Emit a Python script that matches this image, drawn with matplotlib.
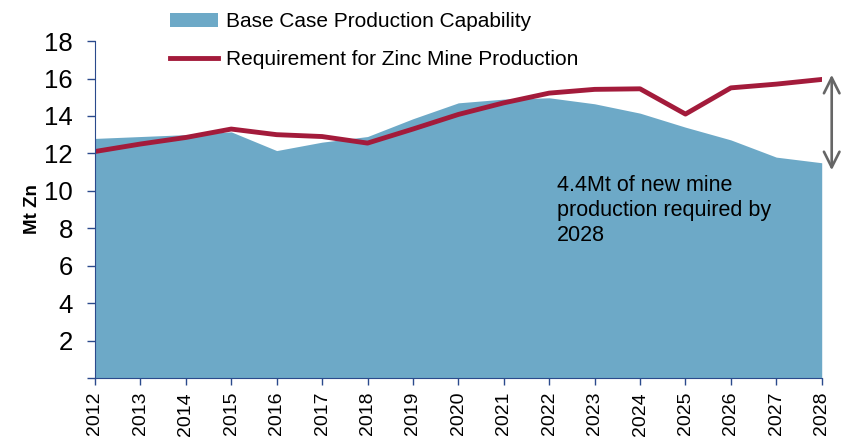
import matplotlib.pyplot as plt

plt.rcParams['font.family'] = ['Liberation Sans', 'DejaVu Sans']

years = list(range(2012, 2029))
base_case = [12.8, 12.9, 13.0, 13.15, 12.15, 12.6, 12.9, 13.85, 14.7,
             14.9, 14.97, 14.65, 14.15, 13.4, 12.72, 11.8, 11.5]
requirement = [12.1, 12.5, 12.85, 13.3, 13.0, 12.9, 12.55, 13.3, 14.08,
               14.7, 15.22, 15.42, 15.45, 14.1, 15.5, 15.7, 15.95]
yticks = list(range(0, 20, 2))

navy = '#2B4A8C'

fig = plt.figure(figsize=(8.48, 4.37), dpi=100)
ax = fig.add_axes([0.112, 0.135, 0.857, 0.771])

ax.fill_between(years, 0, base_case, color='#6DA9C7', linewidth=0,
                label='Base Case Production Capability')
ax.plot(years, requirement, color='#A31B3B', linewidth=3.5,
        label='Requirement for Zinc Mine Production')

ax.set_xlim(2012, 2028)
ax.set_ylim(0, 18)
ax.set_xticks(years)
ax.set_xticklabels([str(y) for y in years], rotation=90, fontsize=14)
ax.set_yticks(yticks)
ax.set_yticklabels(['' if v == 0 else str(v) for v in yticks], fontsize=18.5)
ax.tick_params(axis='y', color=navy, length=6, width=1, pad=10)
ax.tick_params(axis='x', color=navy, length=5, width=1, pad=5)
ax.spines['top'].set_visible(False)
ax.spines['right'].set_visible(False)
ax.spines['left'].set_color(navy)
ax.spines['bottom'].set_color(navy)
ax.set_ylabel('Mt Zn', fontsize=13.5, fontweight='bold', labelpad=2)

# gap arrow at 2028
ax.annotate('', xy=(2028.22, 11.1), xytext=(2028.22, 16.2),
            arrowprops=dict(arrowstyle='<->', color='#666666', lw=1.9,
                            mutation_scale=28, shrinkA=0, shrinkB=0),
            annotation_clip=False)

ax.text(2022.17, 10.85, '4.4Mt of new mine\nproduction required by\n2028',
        fontsize=15.5, va='top', ha='left', linespacing=1.25)

fig.legend(loc='upper left', bbox_to_anchor=(0.178, 1.015), frameon=False,
           fontsize=15, handlelength=2.3, labelspacing=0.9, handletextpad=0.4)

fig.savefig('out.png', dpi=100)
